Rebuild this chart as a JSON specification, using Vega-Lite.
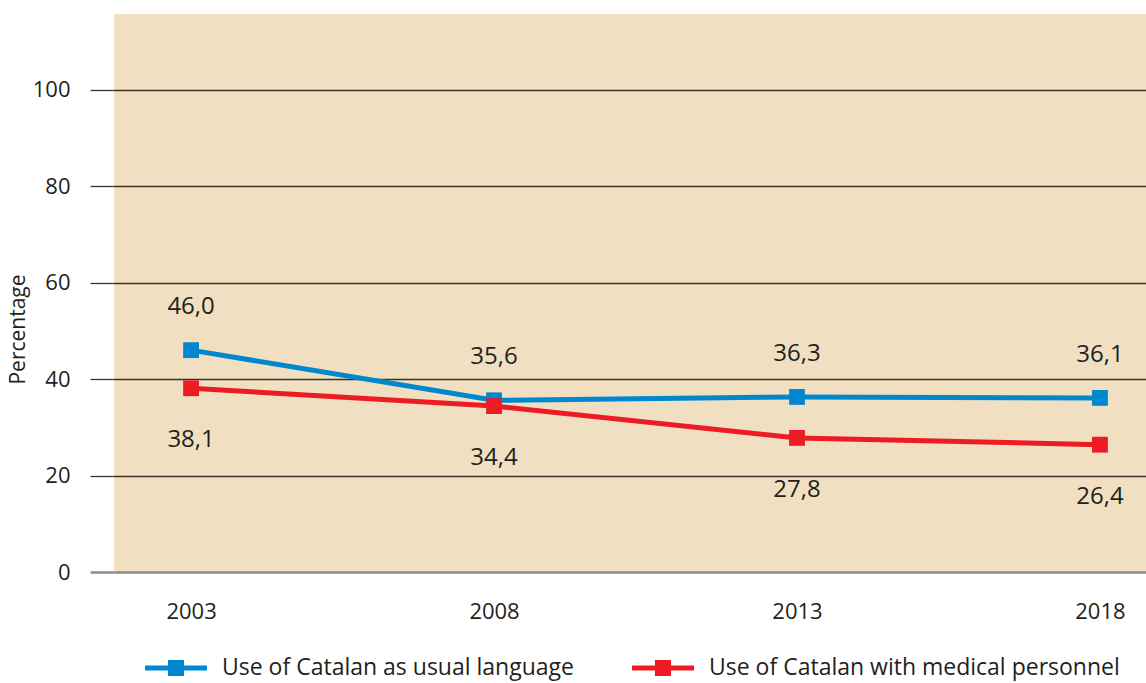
{
  "$schema": "https://vega.github.io/schema/vega-lite/v6.json",
  "width": 1032,
  "height": 558,
  "autosize": {"type": "none"},
  "padding": {"left": 114, "top": 14, "right": 0, "bottom": 111},
  "background": "white",
  "config": {
    "view": {"fill": "#F0DFC1", "stroke": null},
    "font": "Open Sans",
    "text": {"font": "Open Sans"}
  },
  "data": {
    "values": [
      {"year": 2003, "series": "Use of Catalan as usual language", "value": 46.0},
      {"year": 2008, "series": "Use of Catalan as usual language", "value": 35.6},
      {"year": 2013, "series": "Use of Catalan as usual language", "value": 36.3},
      {"year": 2018, "series": "Use of Catalan as usual language", "value": 36.1},
      {"year": 2003, "series": "Use of Catalan with medical personnel", "value": 38.1},
      {"year": 2008, "series": "Use of Catalan with medical personnel", "value": 34.4},
      {"year": 2013, "series": "Use of Catalan with medical personnel", "value": 27.8},
      {"year": 2018, "series": "Use of Catalan with medical personnel", "value": 26.4}
    ]
  },
  "transform": [
    {"calculate": "replace(format(datum.value, '.1f'), '.', ',')", "as": "label"}
  ],
  "encoding": {
    "x": {
      "field": "year",
      "type": "quantitative",
      "scale": {"domain": [2001.728, 2018.76], "nice": false, "zero": false},
      "axis": {
        "values": [2003, 2008, 2013, 2018],
        "format": "d",
        "title": null,
        "grid": false,
        "ticks": false,
        "domain": false,
        "labelPadding": 29,
        "labelFontSize": 22,
        "labelColor": "#231F20",
        "labelFlush": false
      }
    },
    "y": {
      "field": "value",
      "type": "quantitative",
      "scale": {"domain": [0, 115.7], "nice": false},
      "axis": {
        "values": [0, 20, 40, 60, 80, 100],
        "title": "Percentage",
        "titleFontSize": 21,
        "titleFontWeight": "normal",
        "titleColor": "#231F20",
        "titlePadding": 4,
        "titleY": 315,
        "grid": true,
        "gridColor": {"condition": {"test": "datum.value === 0", "value": "#8C8C8C"}, "value": "#3C3228"},
        "gridWidth": {"condition": {"test": "datum.value === 0", "value": 2.5}, "value": 1.3},
        "tickSize": 24,
        "tickColor": {"condition": {"test": "datum.value === 0", "value": "#8C8C8C"}, "value": "#3C3228"},
        "tickWidth": {"condition": {"test": "datum.value === 0", "value": 2.5}, "value": 1.3},
        "domain": false,
        "labelPadding": 20,
        "labelFontSize": 22,
        "labelColor": "#231F20"
      }
    }
  },
  "layer": [
    {
      "mark": {
        "type": "line",
        "strokeWidth": 5,
        "point": {"shape": "square", "size": 250, "filled": true, "opacity": 1}
      },
      "encoding": {
        "color": {
          "field": "series",
          "type": "nominal",
          "scale": {
            "domain": ["Use of Catalan as usual language", "Use of Catalan with medical personnel"],
            "range": ["#0088CE", "#ED1C24"]
          },
          "legend": {
            "title": null,
            "orient": "none",
            "legendX": 31,
            "legendY": 623,
            "direction": "horizontal",
            "symbolType": "M-1,-0.08H1V0.08H-1Z M-0.26,-0.26H0.26V0.26H-0.26Z",
            "symbolSize": 3844,
            "symbolStrokeWidth": 0,
            "symbolOpacity": 1,
            "labelFontSize": 23,
            "labelOffset": 15,
            "columnPadding": 58,
            "labelLimit": 800,
            "padding": 0,
            "labelColor": "#231F20",
            "encode": {
              "symbols": {
                "update": {
                  "fill": {"scale": "color", "field": "value"},
                  "stroke": {"value": "transparent"}
                }
              }
            }
          }
        }
      }
    },
    {
      "transform": [{"filter": "datum.series === 'Use of Catalan as usual language'"}],
      "mark": {"type": "text", "dy": -43, "fontSize": 24, "color": "#231F20"},
      "encoding": {"text": {"field": "label"}}
    },
    {
      "transform": [{"filter": "datum.series === 'Use of Catalan with medical personnel'"}],
      "mark": {"type": "text", "dy": 52, "fontSize": 24, "color": "#231F20"},
      "encoding": {"text": {"field": "label"}}
    }
  ]
}
